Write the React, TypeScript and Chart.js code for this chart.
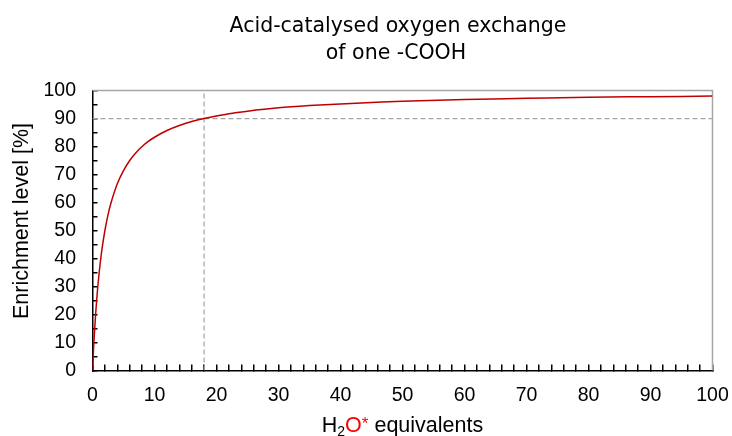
import React, { useEffect, useRef } from 'react';
import { Chart, registerables } from 'chart.js';

Chart.register(...registerables);

// ---- text ----
const titleLines = ['Acid-catalysed oxygen exchange', 'of one -COOH'];
const yAxisTitle = 'Enrichment level [%]';
const xTitleMain = 'H';
const xTitleSub = '2';
const xTitleRed = 'O';
const xTitleSup = '*';
const xTitleRest = ' equivalents';

// ---- data ----
const waterEquivalents = [0, 0.1, 0.25, 0.5, 0.75, 1, 1.5, 2, 2.5, 3, 4, 5, 6, 7, 8, 9, 10, 12, 14, 16, 18, 20, 22, 25, 30, 35, 40, 45, 50, 60, 70, 80, 90, 100];
const enrichment = [0, 4.8, 11.1, 20, 27.3, 33.3, 42.9, 50, 55.6, 60, 66.7, 71.4, 75, 77.8, 80, 81.8, 83.3, 85.7, 87.5, 88.9, 90, 90.9, 91.7, 92.6, 93.8, 94.6, 95.2, 95.7, 96.2, 96.8, 97.2, 97.6, 97.8, 98.0];
const refX = [18];
const refY = [90];
const xRange = [0, 100];
const yRange = [0, 100];
const xTickLabels = [0, 10, 20, 30, 40, 50, 60, 70, 80, 90, 100];
const yTickLabels = [0, 10, 20, 30, 40, 50, 60, 70, 80, 90, 100];

const TICK_FONT = '"Liberation Sans", Arial, sans-serif';

const labelFor = (list: number[]) => (v: any) => {
  const n = Number(v);
  const r = Math.round(n);
  return Math.abs(n - r) < 1e-6 && list.includes(r) ? String(r) : '';
};

const decorPlugin = {
  id: 'decor',
  beforeDatasetsDraw(chart: any) {
    const { ctx, chartArea: a } = chart;
    ctx.save();
    ctx.strokeStyle = '#a6a6a6';
    ctx.lineWidth = 1.5;
    ctx.beginPath();
    ctx.moveTo(a.left, a.top);
    ctx.lineTo(a.right, a.top);
    ctx.lineTo(a.right, a.bottom);
    ctx.stroke();
    ctx.restore();
  },
  afterDraw(chart: any) {
    const { ctx } = chart;
    ctx.save();
    // chart title
    ctx.fillStyle = '#000';
    ctx.textAlign = 'center';
    ctx.textBaseline = 'alphabetic';
    ctx.font = '20.5px "DejaVu Sans", sans-serif';
    ctx.fillText(titleLines[0], 398, 31.5);
    ctx.fillText(titleLines[1], 396, 59);

    // y axis title
    ctx.save();
    ctx.translate(22.5, 221);
    ctx.rotate(-Math.PI / 2);
    ctx.font = '21.5px ' + TICK_FONT;
    ctx.textAlign = 'center';
    ctx.textBaseline = 'middle';
    ctx.fillText(yAxisTitle, 0, 0);
    ctx.restore();

    // x axis title with sub/superscript
    const big = '21.5px ' + TICK_FONT;
    const small = '14px ' + TICK_FONT;
    const star = '17px ' + TICK_FONT;
    const parts = [
      { t: xTitleMain, f: big, c: '#000', dy: 0 },
      { t: xTitleSub, f: small, c: '#000', dy: 4 },
      { t: xTitleRed, f: big, c: '#ff0000', dy: 0 },
      { t: xTitleSup, f: star, c: '#ff0000', dy: -3 },
      { t: xTitleRest, f: big, c: '#000', dy: 0 },
    ];
    let total = 0;
    const widths = parts.map((p) => {
      ctx.font = p.f;
      const w = ctx.measureText(p.t).width;
      total += w;
      return w;
    });
    const a = chart.chartArea;
    let x = (a.left + a.right) / 2 - total / 2;
    const base = 431.5;
    ctx.textAlign = 'left';
    ctx.textBaseline = 'alphabetic';
    parts.forEach((p, i) => {
      ctx.font = p.f;
      ctx.fillStyle = p.c;
      ctx.fillText(p.t, x, base + p.dy);
      x += widths[i];
    });
    ctx.restore();
  },
};

export default function App() {
  const ref = useRef<HTMLCanvasElement | null>(null);

  useEffect(() => {
    if (!ref.current) return;
    const dashStyle = {
      borderColor: '#a6a6a6',
      borderWidth: 1.25,
      borderDash: [5, 3],
      pointRadius: 0,
      showLine: true,
      fill: false,
    };
    const chart = new Chart(ref.current, {
      type: 'scatter',
      data: {
        datasets: [
          {
            data: waterEquivalents.map((x, i) => ({ x, y: enrichment[i] })),
            borderColor: '#c00000',
            borderWidth: 1.5,
            pointRadius: 0,
            showLine: true,
            fill: false,
            cubicInterpolationMode: 'monotone',
          } as any,
          { ...dashStyle, data: [{ x: refX[0], y: yRange[0] }, { x: refX[0], y: yRange[1] }] } as any,
          { ...dashStyle, data: [{ x: xRange[0], y: refY[0] }, { x: xRange[1], y: refY[0] }] } as any,
        ],
      },
      options: {
        responsive: false,
        animation: false,
        events: [],
        layout: { padding: { top: 90.5, right: 19.5, left: 0, bottom: 0 } },
        plugins: {
          legend: { display: false },
          title: { display: false },
          tooltip: { enabled: false },
        },
        scales: {
          x: {
            type: 'linear',
            min: xRange[0],
            max: xRange[1],
            afterFit: (s: any) => {
              s.height = 65.5;
              s.paddingLeft = 0;
              s.paddingRight = 0;
            },
            grid: { drawOnChartArea: false, drawTicks: true, tickLength: -6, color: '#000', lineWidth: 1.5 },
            border: { color: '#000', width: 1.5 },
            ticks: {
              stepSize: 2,
              autoSkip: false,
              maxRotation: 0,
              padding: 19,
              color: '#000',
              font: { family: TICK_FONT, size: 19.5 },
              callback: labelFor(xTickLabels),
            },
          },
          y: {
            type: 'linear',
            min: yRange[0],
            max: yRange[1],
            afterFit: (s: any) => {
              s.width = 92.5;
              s.paddingTop = 0;
              s.paddingBottom = 0;
            },
            grid: { drawOnChartArea: false, drawTicks: true, tickLength: -5, color: '#000', lineWidth: 1.5 },
            border: { color: '#000', width: 1.5 },
            ticks: {
              stepSize: 5,
              autoSkip: false,
              padding: 21.5,
              color: '#000',
              font: { family: TICK_FONT, size: 19.5 },
              callback: labelFor(yTickLabels),
            },
          },
        },
      } as any,
      plugins: [decorPlugin],
    });
    return () => chart.destroy();
  }, []);

  return (
    <div style={{ position: 'absolute', left: 0, top: 0, width: 732, height: 436, background: '#fff' }}>
      <canvas ref={ref} width={732} height={436} style={{ display: 'block', width: 732, height: 436 }} />
    </div>
  );
}
